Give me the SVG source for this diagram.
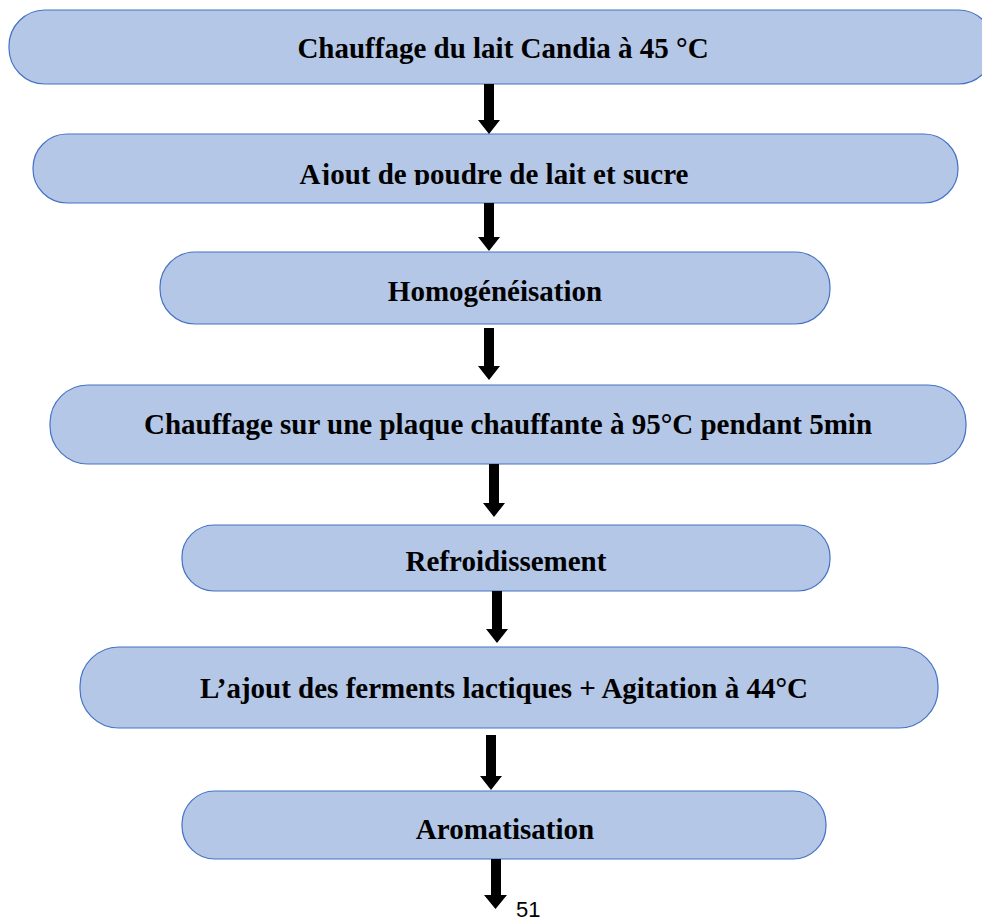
<svg xmlns="http://www.w3.org/2000/svg" width="982" height="919" viewBox="0 0 982 919">
<style>
.box{fill:#B4C7E7;stroke:#4472C4;stroke-width:1.2}
.t{font-family:"Liberation Serif","Times New Roman",serif;font-weight:bold;font-size:29px;fill:#000;text-anchor:middle}
.arr{fill:#000}
</style>
<defs>
<clipPath id="clip2"><rect x="0" y="134" width="982" height="51"/></clipPath>
</defs>
<rect width="982" height="919" fill="#fff"/>
<g id="n1"><rect class="box" x="9" y="10" width="985" height="74" rx="36" ry="36"/><text class="t" x="503" y="58">Chauffage du lait Candia à 45 °C</text></g>
<g id="n2"><rect class="box" x="33" y="134" width="925" height="69" rx="34" ry="34"/><text class="t" x="494" y="184" clip-path="url(#clip2)">Ajout de poudre de lait et sucre</text></g>
<g id="n3"><rect class="box" x="160" y="252" width="670" height="72" rx="35" ry="35"/><text class="t" x="495" y="301">Homogénéisation</text></g>
<g id="n4"><rect class="box" x="50" y="385" width="916" height="79" rx="38" ry="38"/><text class="t" x="508" y="434">Chauffage sur une plaque chauffante à 95°C pendant 5min</text></g>
<g id="n5"><rect class="box" x="182" y="525" width="648" height="66" rx="32" ry="32"/><text class="t" x="506" y="571">Refroidissement</text></g>
<g id="n6"><rect class="box" x="80" y="647" width="858" height="81" rx="39" ry="39"/><text class="t" x="504" y="698">L’ajout des ferments lactiques + Agitation à 44°C</text></g>
<g id="n7"><rect class="box" x="182" y="791" width="644" height="68" rx="33" ry="33"/><text class="t" x="505" y="839">Aromatisation</text></g>
<g id="connectors">
<path class="arr" d="M484 84h10v36h6l-11 14l-11-14h6z"/>
<path class="arr" d="M484 203h10v34h6l-11 14l-11-14h6z"/>
<path class="arr" d="M484 328h10v38h6l-11 14l-11-14h6z"/>
<path class="arr" d="M489 464h10v39h6l-11 14l-11-14h6z"/>
<path class="arr" d="M492 591h10v38h6l-11 14l-11-14h6z"/>
<path class="arr" d="M486 735h10v41h6l-11 14l-11-14h6z"/>
<path class="arr" d="M491 859h10v36h6l-11.5 14l-11.5-14h7z"/>
</g>
<text x="516" y="917" font-family="Liberation Sans, Arial, sans-serif" font-size="22" fill="#000">51</text>
</svg>
